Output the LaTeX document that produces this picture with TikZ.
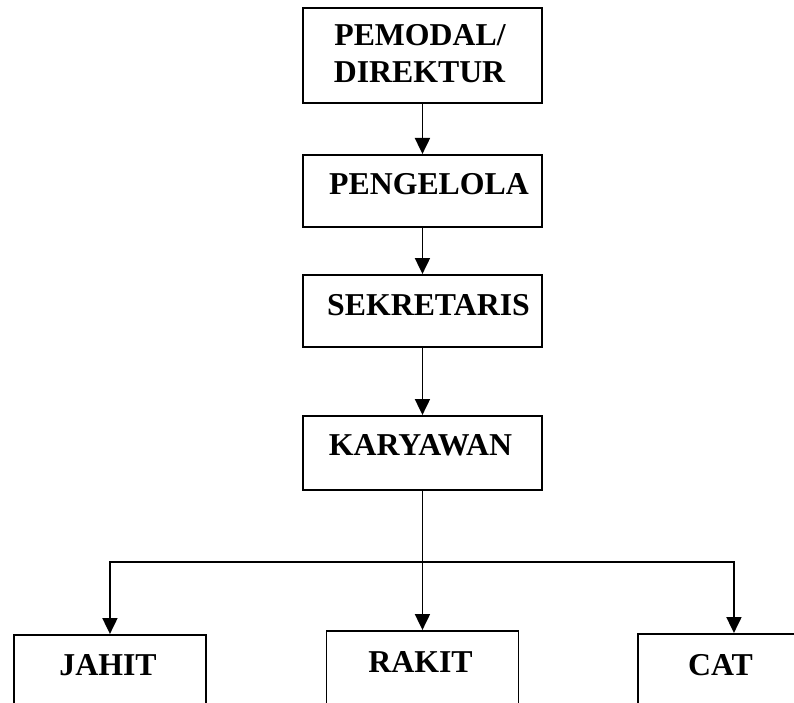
\documentclass[tikz,border=0pt]{standalone}
\usepackage{fontspec}
\setmainfont{Liberation Serif}
\usetikzlibrary{arrows.meta}
\begin{document}
\begin{tikzpicture}[x=1pt,y=-1pt,
  box/.style={draw,line width=1.9pt,anchor=north west,inner sep=0pt,minimum width=#1},
  box/.default=239pt,
  lbl/.style={anchor=base,inner sep=0pt,font=\fontsize{31.8}{34}\selectfont\bfseries},
  arr/.style={line width=1.9pt,-{Triangle[length=16pt,width=15pt]}}]
\useasboundingbox (0,0) rectangle (794,703);
\clip (0,0) rectangle (794,703);
\node[box,minimum height=95pt] (b1) at (302,7) {};
\node[box,minimum height=72pt] (b2) at (302,154) {};
\node[box,minimum height=72pt] (b3) at (302,274) {};
\node[box,minimum height=74pt] (b4) at (302,415) {};
\node[box=192pt,minimum height=100pt] (b5) at (13,634) {};
\node[box=192pt,minimum height=100pt] (b6) at (325.5,630) {};
\node[box=192pt,minimum height=100pt] (b7) at (637,633) {};
\node[lbl] (t1a) at (420,46) {PEMODAL/};
\node[lbl] (t1b) at (419.5,83) {DIREKTUR};
\node[lbl] (t2) at (429,195) {PENGELOLA};
\node[lbl] (t3) at (428.5,315) {SEKRETARIS};
\node[lbl] (t4) at (420.5,455) {KARYAWAN};
\node[lbl] (t5) at (108,675) {JAHIT};
\node[lbl] (t6) at (420.5,672) {RAKIT};
\node[lbl] (t7) at (720.5,675) {CAT};
\coordinate (j) at (421.5,562);
\draw[arr] (b1.south) -- (b2.north);
\draw[arr] (b2.south) -- (b3.north);
\draw[arr] (b3.south) -- (b4.north);
\draw[arr] (b4.south) -- (b6.north);
\draw[arr] (j) -| (b5.north);
\draw[arr] (j) -| (b7.north);
\end{tikzpicture}
\end{document}
